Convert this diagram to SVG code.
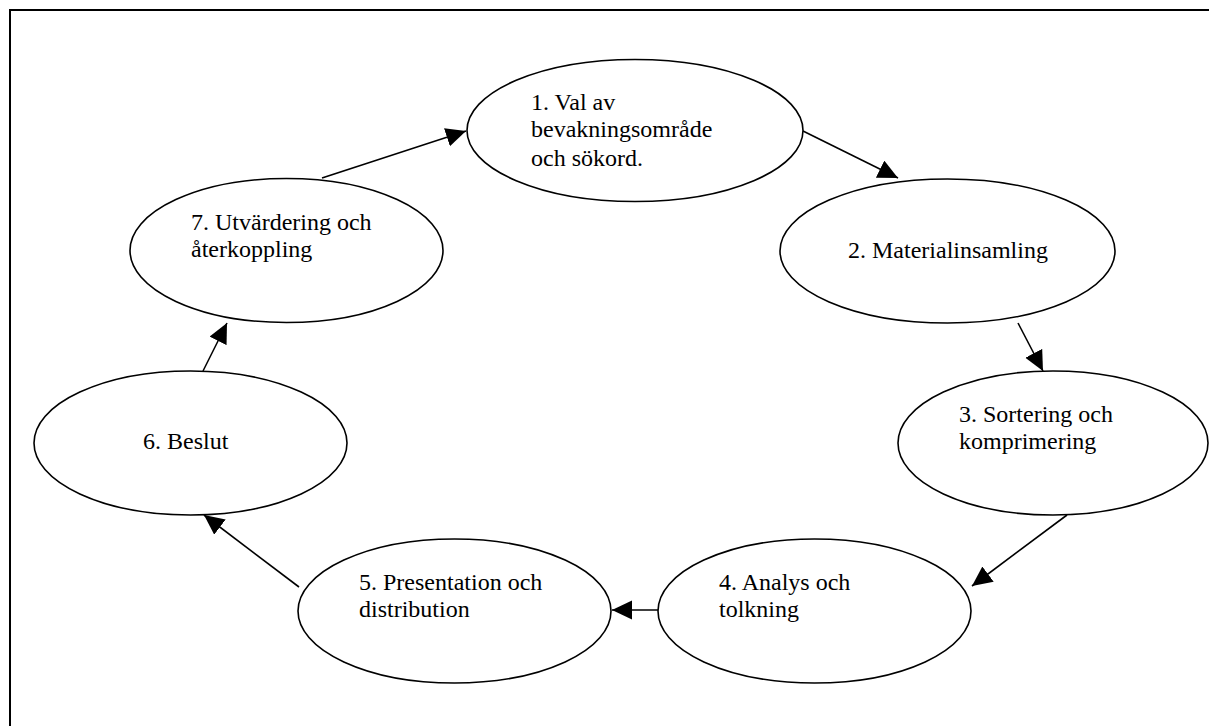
<svg xmlns="http://www.w3.org/2000/svg" width="1209" height="726" viewBox="0 0 1209 726">
<style>
.node ellipse{fill:#fff;stroke:#000;stroke-width:1.6}
.node text{font-family:"Liberation Serif","Times New Roman",serif;font-size:24px;fill:#000}
.edge line{stroke:#000;stroke-width:1.6}
</style>
<defs>
<marker id="ah" markerUnits="userSpaceOnUse" markerWidth="22" markerHeight="20" refX="20" refY="9.5" orient="auto" viewBox="0 0 22 20">
<path d="M0,0 L20,9.5 L0,19 z" fill="#000"/>
</marker>
</defs>
<rect x="10" y="10" width="1220" height="740" fill="#fff" stroke="#000" stroke-width="2"/>
<g id="connectors" class="edge">
<line x1="322" y1="178" x2="466" y2="131" marker-end="url(#ah)"/>
<line x1="803" y1="131" x2="898" y2="178" marker-end="url(#ah)"/>
<line x1="1018" y1="323" x2="1043" y2="371" marker-end="url(#ah)"/>
<line x1="1067" y1="515" x2="972" y2="586" marker-end="url(#ah)"/>
<line x1="658" y1="610" x2="612" y2="610" marker-end="url(#ah)"/>
<line x1="299" y1="587" x2="204" y2="515" marker-end="url(#ah)"/>
<line x1="203" y1="371" x2="227" y2="323" marker-end="url(#ah)"/>
</g>
<g id="n1" class="node">
<ellipse cx="635" cy="130.5" rx="168" ry="71"/>
<text x="531" y="110">1. Val av</text>
<text x="531" y="137">bevakningsområde</text>
<text x="531" y="166">och sökord.</text>
</g>
<g id="n2" class="node">
<ellipse cx="947.5" cy="251" rx="167.5" ry="72"/>
<text x="848" y="258">2. Materialinsamling</text>
</g>
<g id="n3" class="node">
<ellipse cx="1053" cy="443" rx="155" ry="72"/>
<text x="959" y="422">3. Sortering och</text>
<text x="959" y="449">komprimering</text>
</g>
<g id="n4" class="node">
<ellipse cx="814.5" cy="611" rx="156.5" ry="72"/>
<text x="719" y="590">4. Analys och</text>
<text x="719" y="617">tolkning</text>
</g>
<g id="n5" class="node">
<ellipse cx="454.5" cy="611" rx="156.5" ry="72"/>
<text x="359" y="590">5. Presentation och</text>
<text x="359" y="617">distribution</text>
</g>
<g id="n6" class="node">
<ellipse cx="190.5" cy="443" rx="156.5" ry="72"/>
<text x="143" y="449">6. Beslut</text>
</g>
<g id="n7" class="node">
<ellipse cx="286.5" cy="250.5" rx="156.5" ry="72"/>
<text x="191" y="230">7. Utvärdering och</text>
<text x="191" y="257">återkoppling</text>
</g>
</svg>
